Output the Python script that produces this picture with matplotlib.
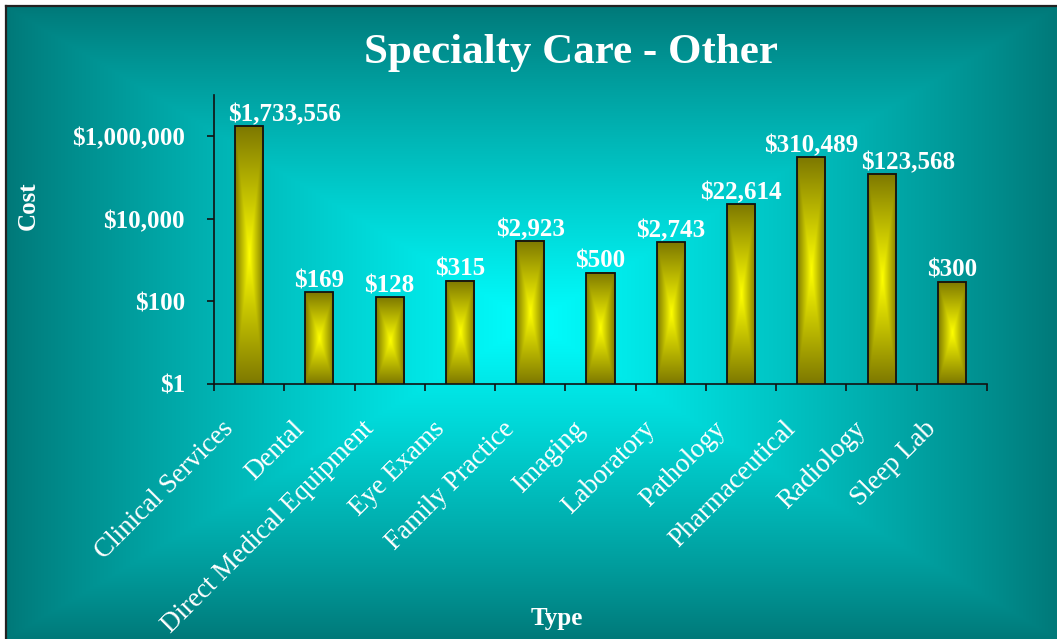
import matplotlib
matplotlib.use("Agg")
import matplotlib.pyplot as plt
import numpy as np
from matplotlib.lines import Line2D
from matplotlib.ticker import FuncFormatter, NullLocator
from matplotlib.transforms import Bbox, BboxTransformTo, ScaledTranslation, TransformedBbox

# --- data ---
categories = ["Clinical Services", "Dental", "Direct Medical Equipment", "Eye Exams",
              "Family Practice", "Imaging", "Laboratory", "Pathology",
              "Pharmaceutical", "Radiology", "Sleep Lab"]
costs = [1733556, 169, 128, 315, 2923, 500, 2743, 22614, 310489, 123568, 300]
y_ticks = [1, 100, 10000, 1000000]
title = "Specialty Care - Other"
x_label = "Type"
y_label = "Cost"

# --- layout / style ---
W, H, DPI = 1057, 639, 100
FONT = "Liberation Serif"
TEAL = (0.0, 0.475, 0.475)
CYAN = (0.0, 1.0, 1.0)
OLIVE = (0.49, 0.47, 0.0)
YELLOW = (1.0, 1.0, 0.0)
# value labels that were dragged sideways in the original (pixels)
label_nudge_px = {"Clinical Services": 35, "Radiology": 27}


def rect_gradient(c_edge, c_mid, n=256, gamma=1.0):
    """Excel-style 'from centre' rectangular gradient as an RGB array."""
    u = np.linspace(-1, 1, n)
    uu, vv = np.meshgrid(u, u)
    t = (1 - np.maximum(np.abs(uu), np.abs(vv))) ** gamma
    edge = np.asarray(c_edge)[None, None, :]
    mid = np.asarray(c_mid)[None, None, :]
    return edge * (1 - t[..., None]) + mid * t[..., None]


def main():
    plt.rcParams["font.family"] = [FONT, "DejaVu Serif"]
    plt.rcParams["font.weight"] = "bold"
    fig = plt.figure(figsize=(W / DPI, H / DPI), dpi=DPI)
    fig.patch.set_facecolor("white")

    # --- background panel with gradient and dark frame line ---
    fx, fy = 7 / W, 7 / H
    bg = fig.add_axes([fx, 0, 1 - fx, 1 - fy], zorder=-10)
    bg.imshow(rect_gradient(TEAL, CYAN, gamma=0.9), extent=(0, 1, 0, 1),
              aspect="auto", interpolation="bilinear")
    bg.set_axis_off()
    fig.add_artist(Line2D([6 / W, 1], [1 - 6 / H, 1 - 6 / H], color="#222222", lw=1.6))
    fig.add_artist(Line2D([6 / W, 6 / W], [0, 1 - 6 / H], color="#222222", lw=1.6))

    # --- main plot area ---
    ax = fig.add_axes([214 / W, 1 - 384 / H, (987 - 214) / W, (384 - 95) / H])
    ax.patch.set_alpha(0)
    x = np.arange(len(categories))
    bars = ax.bar(x, costs, width=0.4, facecolor="none", edgecolor="#111111",
                  lw=1.3, zorder=3)
    ax.set_yscale("log")
    ax.set_xlim(-0.5, len(categories) - 0.5)
    ax.set_ylim(1, 1e7)

    # gradient fill per bar, stretched in display space
    grad = rect_gradient(OLIVE, YELLOW)
    for b in bars:
        bb = Bbox.from_extents(b.get_x(), 1, b.get_x() + b.get_width(), b.get_height())
        ax.imshow(grad, extent=(0, 1, 0, 1), aspect="auto", interpolation="bilinear",
                  transform=BboxTransformTo(TransformedBbox(bb, ax.transData)), zorder=2.5)
    ax.set_xlim(-0.5, len(categories) - 0.5)
    ax.set_ylim(1, 1e7)

    px2pt = 72 / DPI
    for xi, cat, v in zip(x, categories, costs):
        dx = label_nudge_px.get(cat, 0) * px2pt
        ax.annotate(f"${v:,.0f}", (xi, v), xytext=(dx, 3.5), textcoords="offset points",
                    ha="center", va="baseline", color="white", fontsize=18, zorder=4)

    # --- axes styling ---
    for s in ("top", "right"):
        ax.spines[s].set_visible(False)
    for s in ("left", "bottom"):
        ax.spines[s].set_color("#111111")
        ax.spines[s].set_linewidth(1.2)
        ax.spines[s].set_zorder(5)

    ax.set_yticks(y_ticks)
    ax.yaxis.set_minor_locator(NullLocator())
    ax.yaxis.set_major_formatter(FuncFormatter(lambda v, _: f"${v:,.0f}"))
    ax.tick_params(axis="y", length=5, width=1.2, color="#111111", pad=16,
                   labelcolor="white", labelsize=18)

    ax.set_xticks(x)
    ax.set_xticks(np.arange(-0.5, len(categories)), minor=True)
    ax.set_xticklabels(categories, rotation=45, ha="right", va="top",
                       rotation_mode="anchor", color="white", fontsize=19.5,
                       fontweight="normal")
    ax.tick_params(axis="x", which="major", length=0, pad=4)
    ax.tick_params(axis="x", which="minor", length=5, width=1.2, color="#111111")
    shift = ScaledTranslation(-28 / DPI, -27 / DPI, fig.dpi_scale_trans)
    for lab in ax.get_xticklabels():
        lab.set_transform(lab.get_transform() + shift)

    # --- titles ---
    fig.text(571 / W, 1 - 63 / H, title, ha="center", va="baseline",
             color="white", fontsize=31)
    fig.text(557 / W, 1 - 625 / H, x_label, ha="center", va="baseline",
             color="white", fontsize=18)
    fig.text(28 / W, 1 - 206 / H, y_label, ha="center", va="center", rotation=90,
             color="white", fontsize=18)

    fig.savefig("out.png", dpi=DPI)
    plt.close(fig)


if __name__ == "__main__":
    main()
